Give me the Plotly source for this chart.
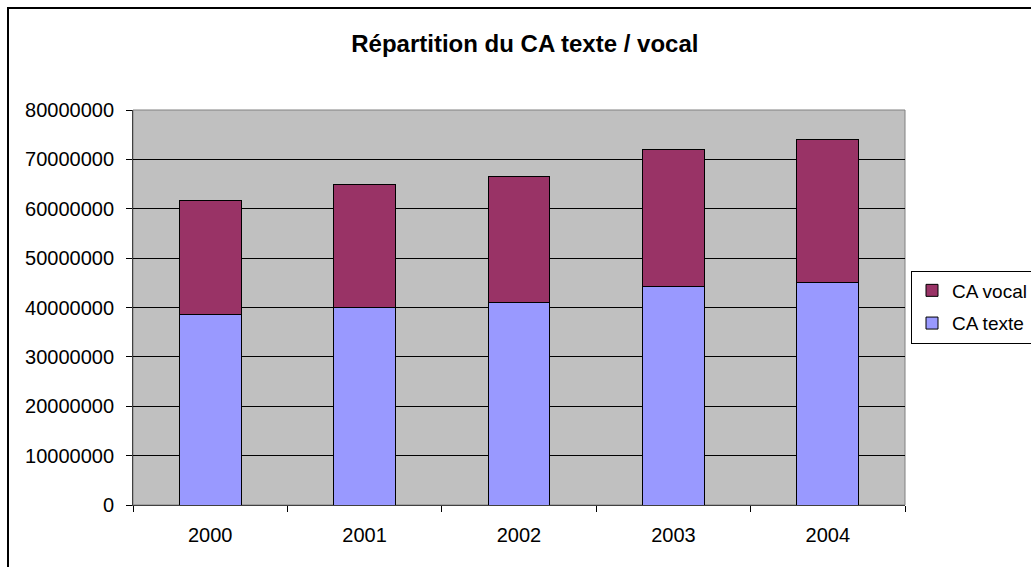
import plotly.graph_objects as go

years = ["2000", "2001", "2002", "2003", "2004"]
ca_texte = [38.5e6, 40.1e6, 41.0e6, 44.3e6, 45.0e6]
ca_vocal = [23.2e6, 24.9e6, 25.6e6, 27.7e6, 29.1e6]
y_ticks = [0, 10000000, 20000000, 30000000, 40000000, 50000000, 60000000, 70000000, 80000000]

W, H = 1031, 567
L, R, T, B = 133, 905, 110, 505

fig = go.Figure()
fig.add_trace(go.Bar(name="CA texte", x=years, y=ca_texte, legendgroup="t", legendrank=2,
                     marker=dict(color="#9999FF", line=dict(color="black", width=1))))
fig.add_trace(go.Bar(name="CA vocal", x=years, y=ca_vocal, legendgroup="v", legendrank=1,
                     marker=dict(color="#993366", line=dict(color="black", width=1))))

font = "Arial, Liberation Sans, sans-serif"

def px_x(p):
    return (p - L) / (R - L)

def px_y(p):
    return (B - p) / (B - T)

fig.update_layout(
    width=W, height=H,
    margin=dict(l=L, r=W - R, t=T, b=H - B, autoexpand=False),
    barmode="stack", bargap=0.6,
    plot_bgcolor="#C0C0C0", paper_bgcolor="white",
    font=dict(family=font, size=20, color="black"),
    title=dict(text="<b>Répartition du CA texte / vocal</b>", x=px_x(526), xanchor="center",
               y=1 - 44 / H, yanchor="middle", font=dict(size=24, family=font)),
    legend=dict(x=px_x(911), y=px_y(307), xanchor="left", yanchor="middle",
                traceorder="grouped", bordercolor="black", borderwidth=1,
                bgcolor="white", font=dict(size=19, family=font),
                tracegroupgap=5, itemwidth=30),
    showlegend=True,
)
fig.update_xaxes(showline=True, linecolor="#404040", linewidth=1, ticks="outside",
                 tickson="boundaries", ticklen=6, tickcolor="black",
                 ticklabelstandoff=12, showgrid=False, mirror=False)
fig.update_yaxes(range=[0, 80000000], tickvals=y_ticks, tickformat="d",
                 showline=True, linecolor="#404040", linewidth=1, ticks="outside",
                 ticklen=6, tickcolor="black", ticklabelstandoff=8,
                 showgrid=True, gridcolor="black", gridwidth=1, zeroline=False)

# plot area frame (top/right gray)
fig.add_shape(type="rect", xref="paper", yref="paper", x0=0, y0=0, x1=1, y1=1,
              line=dict(color="#808080", width=1), layer="below")
# chart outer border
fig.add_shape(type="rect", xref="paper", yref="paper",
              x0=px_x(8), y0=px_y(575), x1=px_x(1045), y1=px_y(8),
              line=dict(color="black", width=2))

fig.write_html("out.html")
